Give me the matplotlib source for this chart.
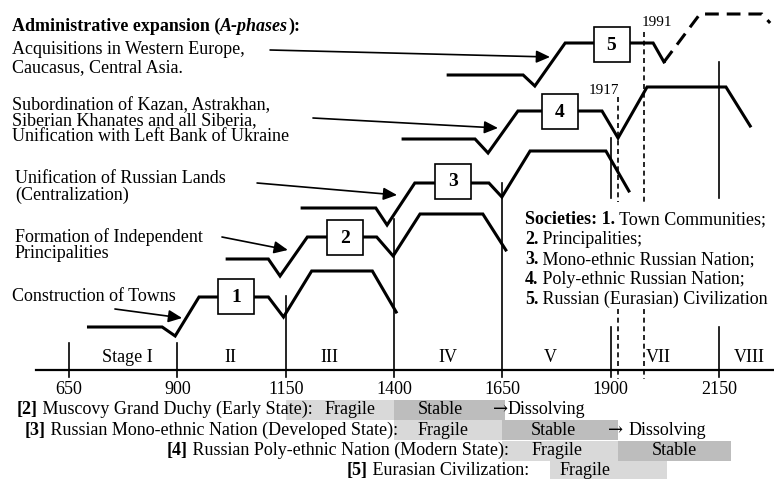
import matplotlib
matplotlib.use("Agg")
import matplotlib.pyplot as plt
from matplotlib.patches import Rectangle

FAM = ['Liberation Serif', 'DejaVu Serif']
ARROW_FAM = ['DejaVu Serif']
plt.rcParams['font.family'] = FAM

# ---------------- data (x in years, y in diagram level units, top = 0) -------------
ticks = [650, 900, 1150, 1400, 1650, 1900, 2150]
tick_labels = ['650', '900', '1150', '1400', '1650', '1900', '2150']
stage_tops = [343, 343, 296, 219, 183, 138, 62]
stage_gaps = [None, None, None, None, None, (198, 327), (198, 327)]

stage_names = ['Stage I', 'II', 'III', 'IV', 'V', 'VII', 'VIII']
stage_label_x = [784, 1022, 1252, 1525, 1761, 2009, 2219]

event_years = [1917, 1978]
event_labels = ['1917', '1991']
event_tops = [97, 32]
event_label_x = [1885, 2007]
event_label_y = [94, 26]

curve1_x = [695, 865, 895, 950, 1110, 1145, 1210, 1350, 1405]
curve1_y = [327, 327, 336, 297, 297, 317, 271, 271, 312]
curve2_x = [1015, 1110, 1137, 1200, 1360, 1398, 1460, 1605, 1658]
curve2_y = [259, 259, 276, 237, 237, 256, 214, 214, 250]
curve3_x = [1188, 1358, 1384, 1448, 1619, 1649, 1714, 1889, 1942]
curve3_y = [208, 208, 225, 183, 183, 197, 151, 151, 191]
curve4_x = [1421, 1587, 1617, 1686, 1880, 1917, 1984, 2166, 2222]
curve4_y = [139, 139, 153, 111, 111, 138, 87, 87, 126]
curve5_x = [1525, 1698, 1725, 1795, 1998, 2023]
curve5_y = [75, 75, 86, 43, 43, 62]
curve5_future_x = [2023, 2106, 2249, 2268]
curve5_future_y = [62, 14, 14, 23]

box_labels = ['1', '2', '3', '4', '5']
box_x = [1035, 1287, 1536, 1782, 1902]
box_y = [296, 237, 181, 111, 44]

phase_texts = [
    (['Acquisitions in Western Europe,', 'Caucasus, Central Asia.'], 518, [54, 72]),
    (['Subordination of Kazan, Astrakhan,', 'Siberian Khanates and all Siberia,',
      'Unification with Left Bank of Ukraine'], 518, [110, 125.5, 141]),
    (['Unification of Russian Lands', '(Centralization)'], 525, [183, 200]),
    (['Formation of Independent', 'Principalities'], 525, [242, 258]),
    (['Construction of Towns'], 518, [301]),
]
arrow_start_x = [1114, 1213, 1084, 1003, 756]
arrow_start_y = [50, 118, 183, 237, 309]
arrow_end_x = [1760, 1640, 1407, 1155, 911]
arrow_end_y = [57, 128, 195, 250, 318]

society_nums = ['1.', '2.', '3.', '4.', '5.']
society_names = ['Town Communities;', 'Principalities;', 'Mono-ethnic Russian Nation;',
                 'Poly-ethnic Russian Nation;', 'Russian (Eurasian) Civilization']
society_y = [224, 244, 264, 284, 304]

row_tags = ['[2]', '[3]', '[4]', '[5]']
row_names = ['Muscovy Grand Duchy (Early State):',
             'Russian Mono-ethnic Nation (Developed State):',
             'Russian Poly-ethnic Nation (Modern State):',
             'Eurasian Civilization:']
row_label_x = [530, 548, 876, 1291]
row_y = [409.5, 430, 450.5, 470.5]
row_baseline = [414, 435, 455, 475]
fragile_start = [1150, 1400, 1650, 1760]
fragile_end = [1400, 1650, 1917, 2030]
stable_start = [1400, 1650, 1917, None]
stable_end = [1655, 1917, 2178, None]
fragile_text_x = [1298, 1513, 1776, 1841]
stable_text_x = [1506, 1767, 2048, None]
dissolve_arrow = ['\u2192', '\u2192 ', None, None]
dissolve_word = 'Dissolving'
dissolve_x = [1628, 1894, None, None]

# ---------------- figure ----------------
fig = plt.figure(figsize=(7.74, 4.79), dpi=100)
ax = fig.add_axes([0, 0, 1, 1])
ax.set_xlim(490.77, 2276.9)
ax.set_ylim(479, 0)
ax.axis('off')

FS = 13
LIGHT = '#d9d9d9'
DARK = '#bdbdbd'


def rich(x, y, parts, size=FS):
    p = parts[0]
    fam = p[3] if len(p) > 3 else FAM
    t = ax.text(x, y, p[0], fontsize=size, fontweight=p[1], fontstyle=p[2],
                va='baseline', ha='left', family=fam, zorder=6)
    for p in parts[1:]:
        fam = p[3] if len(p) > 3 else FAM
        t = ax.annotate(p[0], xy=(1, 0), xycoords=t, va='bottom', ha='left',
                        fontsize=size, fontweight=p[1], fontstyle=p[2], family=fam, zorder=6)
    return t


# header
rich(518, 31, [('Administrative expansion (', 'bold', 'normal'),
               ('A-phases', 'bold', 'italic'),
               ('):', 'bold', 'normal')])

# phase descriptions
for lines, x, ys in phase_texts:
    for line, y in zip(lines, ys):
        ax.text(x, y, line, fontsize=FS, va='baseline', ha='left')

# arrows
for sx, sy, ex, ey in zip(arrow_start_x, arrow_start_y, arrow_end_x, arrow_end_y):
    ax.annotate('', xy=(ex, ey), xytext=(sx, sy),
                arrowprops=dict(arrowstyle='-|>,head_length=0.55,head_width=0.25',
                                mutation_scale=15, lw=1.2, color='black',
                                shrinkA=0, shrinkB=0))

# time axis
ax.plot([574, 2277], [370, 370], color='black', lw=1.6, zorder=3)
for yr, top, gap, lab in zip(ticks, stage_tops, stage_gaps, tick_labels):
    if gap is None:
        ax.plot([yr, yr], [top, 377], color='black', lw=1.2, zorder=3)
    else:
        ax.plot([yr, yr], [top, gap[0]], color='black', lw=1.2, zorder=3)
        ax.plot([yr, yr], [gap[1], 377], color='black', lw=1.2, zorder=3)
    ax.text(yr, 394, lab, fontsize=FS, ha='center', va='baseline')

for name, x in zip(stage_names, stage_label_x):
    ax.text(x, 362, name, fontsize=FS, ha='center', va='baseline')

# event dashed lines
for yr, top, lab, lx, ly in zip(event_years, event_tops, event_labels, event_label_x, event_label_y):
    ax.plot([yr, yr], [top, 202], color='black', lw=1.2, ls=(0, (3, 2.2)), zorder=3)
    ax.plot([yr, yr], [309, 379], color='black', lw=1.2, ls=(0, (3, 2.2)), zorder=3)
    ax.text(lx, ly, lab, fontsize=11, ha='center', va='baseline')

# curves
for cx, cy in [(curve1_x, curve1_y), (curve2_x, curve2_y), (curve3_x, curve3_y),
               (curve4_x, curve4_y), (curve5_x, curve5_y)]:
    ax.plot(cx, cy, color='black', lw=2.2, solid_joinstyle='miter', zorder=4)
ax.plot(curve5_future_x, curve5_future_y, color='black', lw=2.2,
        ls=(0, (4.5, 2.6)), zorder=4)

# society boxes
BW, BH = 83, 35
for lab, bx, by in zip(box_labels, box_x, box_y):
    ax.add_patch(Rectangle((bx - BW / 2, by - BH / 2), BW, BH, facecolor='white',
                           edgecolor='black', lw=1.2, zorder=5))
    ax.text(bx, by + 1, lab, fontsize=14, fontweight='bold', ha='center', va='center', zorder=6)

# societies legend
for i, (num, name, y) in enumerate(zip(society_nums, society_names, society_y)):
    if i == 0:
        rich(1702, y, [('Societies: 1.', 'bold', 'normal'), (' ' + name, 'normal', 'normal')])
    else:
        rich(1702, y, [(num, 'bold', 'normal'), (' ' + name, 'normal', 'normal')])

# state bars
for i in range(4):
    ax.barh(row_y[i], fragile_end[i] - fragile_start[i], left=fragile_start[i],
            height=20, color=LIGHT, zorder=1)
    if stable_start[i] is not None:
        ax.barh(row_y[i], stable_end[i] - stable_start[i], left=stable_start[i],
                height=20, color=DARK, zorder=1)
    rich(row_label_x[i], row_baseline[i], [(row_tags[i], 'bold', 'normal'),
                                           (' ' + row_names[i], 'normal', 'normal')])
    ax.text(fragile_text_x[i], row_baseline[i], 'Fragile', fontsize=FS,
            ha='center', va='baseline', zorder=6)
    if stable_text_x[i] is not None:
        ax.text(stable_text_x[i], row_baseline[i], 'Stable', fontsize=FS,
                ha='center', va='baseline', zorder=6)
    if dissolve_arrow[i] is not None:
        rich(dissolve_x[i], row_baseline[i],
             [(dissolve_arrow[i], 'normal', 'normal', ARROW_FAM),
              (dissolve_word, 'normal', 'normal')], size=FS)

fig.savefig('out.png', dpi=100)
